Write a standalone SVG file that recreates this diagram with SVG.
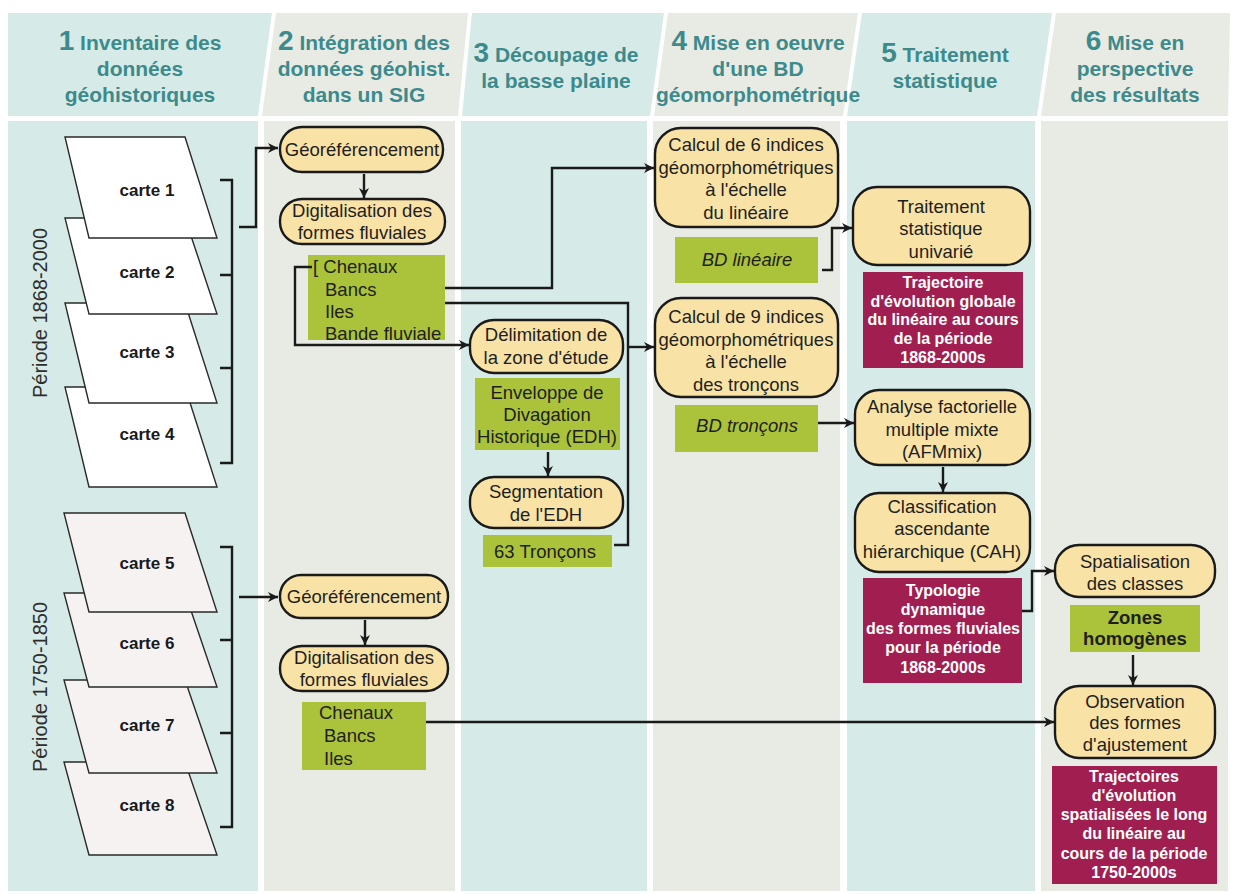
<svg xmlns="http://www.w3.org/2000/svg" width="1233" height="894" viewBox="0 0 1233 894">
<defs>
<marker id="arr" viewBox="0 0 10 10" refX="10" refY="5" markerWidth="10" markerHeight="10" markerUnits="userSpaceOnUse" orient="auto">
<path d="M0,0 L10,5 L0,10 L3,5 z" fill="#1a1a1a"/>
</marker>
</defs>
<style>
.bgA{fill:#d6ebe7}
.bgB{fill:#e8ebe4}
.hd{font-family:"Liberation Sans",Arial,sans-serif;font-weight:bold;font-size:21px;fill:#3d8a8c;text-anchor:middle}
.num{font-size:28px}
.carte{fill:#ffffff;stroke:#2a2a2a;stroke-width:1.4}
.carte2{fill:#f7f2f2;stroke:#2a2a2a;stroke-width:1.4}
.ct{font-family:"Liberation Sans",Arial,sans-serif;font-weight:bold;font-size:17px;fill:#1a1a1a;text-anchor:middle}
.per{font-family:"Liberation Sans",Arial,sans-serif;font-size:20px;fill:#2e2e2e;text-anchor:middle}
.node{fill:#f8e2a6;stroke:#1a1a1a;stroke-width:2.4}
.green{fill:#aac33a}
.purple{fill:#a01f50}
.t{font-family:"Liberation Sans",Arial,sans-serif;font-size:18.5px;fill:#1e1e1e;text-anchor:middle}
.tl{font-family:"Liberation Sans",Arial,sans-serif;font-size:18.5px;fill:#1e1e1e}
.it{font-style:italic}
.b{font-weight:bold}
.pt{font-family:"Liberation Sans",Arial,sans-serif;font-size:16px;font-weight:bold;fill:#ffffff;text-anchor:middle}
.ln{fill:none;stroke:#1a1a1a;stroke-width:2.4}
.br{fill:none;stroke:#1a1a1a;stroke-width:2.4}
</style>

<g id="columns">
<polygon class="bgA" points="8,13 272,13 258,116 8,116"/>
<polygon class="bgB" points="276,13 468,13 458,116 262,116"/>
<polygon class="bgA" points="472,13 664,13 650,116 462,116"/>
<polygon class="bgB" points="668,13 858,13 843,116 654,116"/>
<polygon class="bgA" points="862,13 1052,13 1037,116 847,116"/>
<polygon class="bgB" points="1056,13 1230,13 1228,116 1041,116"/>
<rect class="bgA" x="8" y="121" width="250" height="770"/>
<rect class="bgB" x="264" y="121" width="191" height="770"/>
<rect class="bgA" x="461" y="121" width="186" height="770"/>
<rect class="bgB" x="653" y="121" width="187" height="770"/>
<rect class="bgA" x="847" y="121" width="188" height="770"/>
<rect class="bgB" x="1041" y="121" width="187" height="770"/>
</g>

<g id="headers">
<text class="hd" x="140" y="50"><tspan class="num">1</tspan> Inventaire des</text>
<text class="hd" x="140" y="76">données</text>
<text class="hd" x="140" y="102">géohistoriques</text>
<text class="hd" x="364" y="50"><tspan class="num">2</tspan> Intégration des</text>
<text class="hd" x="364" y="76">données géohist.</text>
<text class="hd" x="364" y="102">dans un SIG</text>
<text class="hd" x="556" y="62"><tspan class="num">3</tspan> Découpage de</text>
<text class="hd" x="556" y="88">la basse plaine</text>
<text class="hd" x="758" y="50"><tspan class="num">4</tspan> Mise en oeuvre</text>
<text class="hd" x="758" y="76">d'une BD</text>
<text class="hd" x="758" y="102">géomorphométrique</text>
<text class="hd" x="945" y="62"><tspan class="num">5</tspan> Traitement</text>
<text class="hd" x="945" y="88">statistique</text>
<text class="hd" x="1135" y="50"><tspan class="num">6</tspan> Mise en</text>
<text class="hd" x="1135" y="76">perspective</text>
<text class="hd" x="1135" y="102">des résultats</text>
</g>

<g id="periode1">
<text class="per" transform="translate(47,313) rotate(-90)">Période 1868-2000</text>
</g>
<g id="periode2">
<text class="per" transform="translate(47,687) rotate(-90)">Période 1750-1850</text>
</g>

<g id="carte4"><polygon class="carte" points="65,387 185,387 217,487 89,487"/><text class="ct" x="147" y="440">carte 4</text></g>
<g id="carte3"><polygon class="carte" points="65,303 185,303 217,403 89,403"/><text class="ct" x="147" y="358">carte 3</text></g>
<g id="carte2"><polygon class="carte" points="65,218 185,218 217,314 89,314"/><text class="ct" x="147" y="278">carte 2</text></g>
<g id="carte1"><polygon class="carte" points="65,137 185,137 217,238 89,238"/><text class="ct" x="147" y="196">carte 1</text></g>

<g id="carte8"><polygon class="carte2" points="64,762 185,762 217,855 89,855"/><text class="ct" x="147" y="811">carte 8</text></g>
<g id="carte7"><polygon class="carte2" points="64,680 185,680 217,773 89,773"/><text class="ct" x="147" y="731">carte 7</text></g>
<g id="carte6"><polygon class="carte2" points="64,593 185,593 217,687 89,687"/><text class="ct" x="147" y="649">carte 6</text></g>
<g id="carte5"><polygon class="carte2" points="64,513 185,513 217,612 89,612"/><text class="ct" x="147" y="569">carte 5</text></g>

<g id="georef1"><rect class="node" x="280" y="127" width="163" height="45" rx="22"/><text class="t" x="362" y="156">Géoréférencement</text></g>
<g id="digit1"><rect class="node" x="280" y="199" width="165" height="45" rx="22"/><text class="t" x="362" y="217">Digitalisation des</text><text class="t" x="362" y="239">formes fluviales</text></g>
<g id="formes1"><rect class="green" x="308" y="255" width="137" height="85"/><text class="tl" x="313" y="273">[ Chenaux</text><text class="tl" x="325" y="296">Bancs</text><text class="tl" x="325" y="318">Iles</text><text class="tl" x="325" y="340">Bande fluviale</text></g>

<g id="delim"><rect class="node" x="470" y="320" width="153" height="53" rx="24"/><text class="t" x="546" y="341">Délimitation de</text><text class="t" x="546" y="364">la zone d'étude</text></g>
<g id="edh"><rect class="green" x="475" y="378" width="145" height="72"/><text class="t" x="547" y="399">Enveloppe de</text><text class="t" x="547" y="421">Divagation</text><text class="t" x="547" y="443">Historique (EDH)</text></g>
<g id="segm"><rect class="node" x="470" y="477" width="153" height="51" rx="24"/><text class="t" x="546" y="498">Segmentation</text><text class="t" x="546" y="521">de l'EDH</text></g>
<g id="troncons"><rect class="green" x="483" y="535" width="129" height="32"/><text class="t" x="545" y="558">63 Tronçons</text></g>

<g id="calcul6"><rect class="node" x="655" y="128" width="183" height="99" rx="26"/><text class="t" x="746" y="151">Calcul de 6 indices</text><text class="t" x="746" y="174">géomorphométriques</text><text class="t" x="746" y="196">à l'échelle</text><text class="t" x="746" y="219">du linéaire</text></g>
<g id="bdlin"><rect class="green" x="675" y="237" width="143" height="46"/><text class="t it" x="747" y="266">BD linéaire</text></g>
<g id="calcul9"><rect class="node" x="655" y="298" width="183" height="99" rx="26"/><text class="t" x="746" y="323">Calcul de 9 indices</text><text class="t" x="746" y="346">géomorphométriques</text><text class="t" x="746" y="368">à l'échelle</text><text class="t" x="746" y="391">des tronçons</text></g>
<g id="bdtron"><rect class="green" x="675" y="405" width="143" height="47"/><text class="t it" x="747" y="432">BD tronçons</text></g>

<g id="traitement"><rect class="node" x="853" y="187" width="177" height="78" rx="24"/><text class="t" x="941" y="213">Traitement</text><text class="t" x="941" y="235">statistique</text><text class="t" x="941" y="258">univarié</text></g>
<g id="traj1"><rect class="purple" x="863" y="272" width="160" height="96"/><text class="pt" x="943" y="288">Trajectoire</text><text class="pt" x="943" y="307">d'évolution globale</text><text class="pt" x="943" y="325">du linéaire au cours</text><text class="pt" x="943" y="344">de la période</text><text class="pt" x="943" y="363">1868-2000s</text></g>
<g id="afm"><rect class="node" x="855" y="390" width="175" height="75" rx="24"/><text class="t" x="942" y="413">Analyse factorielle</text><text class="t" x="942" y="436">multiple mixte</text><text class="t" x="942" y="458">(AFMmix)</text></g>
<g id="cah"><rect class="node" x="855" y="493" width="175" height="79" rx="24"/><text class="t" x="942" y="513">Classification</text><text class="t" x="942" y="535">ascendante</text><text class="t" x="942" y="558">hiérarchique (CAH)</text></g>
<g id="typo"><rect class="purple" x="863" y="578" width="159" height="105"/><text class="pt" x="943" y="596">Typologie</text><text class="pt" x="943" y="615">dynamique</text><text class="pt" x="943" y="634">des formes fluviales</text><text class="pt" x="943" y="653">pour la période</text><text class="pt" x="943" y="673">1868-2000s</text></g>

<g id="spatial"><rect class="node" x="1055" y="545" width="160" height="52" rx="24"/><text class="t" x="1135" y="568">Spatialisation</text><text class="t" x="1135" y="590">des classes</text></g>
<g id="zones"><rect class="green" x="1070" y="605" width="130" height="47"/><text class="t b" x="1135" y="624">Zones</text><text class="t b" x="1135" y="645">homogènes</text></g>
<g id="observ"><rect class="node" x="1055" y="686" width="160" height="72" rx="24"/><text class="t" x="1135" y="708">Observation</text><text class="t" x="1135" y="729">des formes</text><text class="t" x="1135" y="751">d'ajustement</text></g>
<g id="traj2"><rect class="purple" x="1052" y="766" width="165" height="118"/><text class="pt" x="1134" y="782">Trajectoires</text><text class="pt" x="1134" y="801">d'évolution</text><text class="pt" x="1134" y="820">spatialisées le long</text><text class="pt" x="1134" y="839">du linéaire au</text><text class="pt" x="1134" y="859">cours de la période</text><text class="pt" x="1134" y="878">1750-2000s</text></g>

<g id="georef2"><rect class="node" x="280" y="575" width="168" height="43" rx="21"/><text class="t" x="364" y="603">Géoréférencement</text></g>
<g id="digit2"><rect class="node" x="280" y="646" width="168" height="45" rx="22"/><text class="t" x="364" y="664">Digitalisation des</text><text class="t" x="364" y="686">formes fluviales</text></g>
<g id="formes2"><rect class="green" x="302" y="702" width="124" height="68"/><text class="tl" x="319" y="719">Chenaux</text><text class="tl" x="324" y="742">Bancs</text><text class="tl" x="324" y="765">Iles</text></g>

<g id="connectors">
<path class="br" d="M220,180 H232 V463 H220 M220,275 H232 M220,368 H232"/>
<path class="ln" d="M239,227 H256 V148 H278" marker-end="url(#arr)"/>
<path class="br" d="M220,547 H232 V827 H220 M220,640 H232 M220,733 H232"/>
<path class="ln" d="M239,597 H278" marker-end="url(#arr)"/>
<path class="ln" d="M364,174 V198" marker-end="url(#arr)"/>
<path class="ln" d="M312,267 H295 V345 H469" marker-end="url(#arr)"/>
<path class="ln" d="M445,288 H552 V168 H654" marker-end="url(#arr)"/>
<path class="ln" d="M445,303 H628 V545 H614"/>
<path class="ln" d="M628,347 H654" marker-end="url(#arr)"/>
<path class="ln" d="M548,452 V476" marker-end="url(#arr)"/>
<path class="ln" d="M822,270 H832 V228 H852" marker-end="url(#arr)"/>
<path class="ln" d="M818,423 H854" marker-end="url(#arr)"/>
<path class="ln" d="M943,467 V492" marker-end="url(#arr)"/>
<path class="ln" d="M1022,611 H1032 V571 H1054" marker-end="url(#arr)"/>
<path class="ln" d="M1133,655 V685" marker-end="url(#arr)"/>
<path class="ln" d="M365,620 V645" marker-end="url(#arr)"/>
<path class="ln" d="M426,722 H1054" marker-end="url(#arr)"/>
</g>
</svg>
